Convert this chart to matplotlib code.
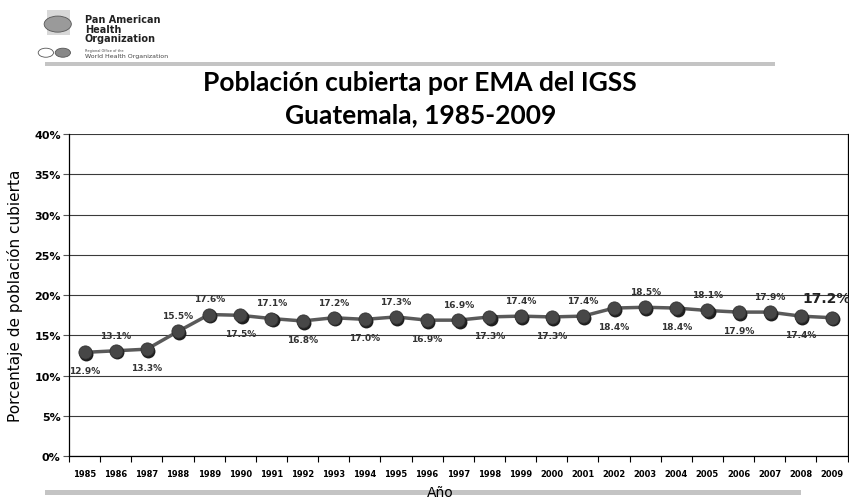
import matplotlib.pyplot as plt
import numpy as np
from matplotlib.patches import Circle, Rectangle

years = [str(y) for y in range(1985, 2010)]
cobertura = [12.9, 13.1, 13.3, 15.5, 17.6, 17.5, 17.1, 16.8, 17.2, 17.0, 17.3, 16.9, 16.9,
             17.3, 17.4, 17.3, 17.4, 18.4, 18.5, 18.4, 18.1, 17.9, 17.9, 17.4, 17.2]
yticks = [0, 5, 10, 15, 20, 25, 30, 35, 40]

# where each data label sits (a = above, b = below)
placement = "babaa" + "babababababababababa"

fig = plt.figure(figsize=(8.49, 5.02), dpi=100)
ax = fig.add_axes([0.0813, 0.089, 0.917, 0.642])

x = np.arange(len(years))
ax.plot(x, cobertura, color='#5a5a5a', lw=2.5, zorder=3)
ax.plot(x + 0.04, np.array(cobertura) - 0.2, 'o', ms=10, color='#1e1e1e', mec='none', zorder=4)
ax.plot(x, cobertura, 'o', ms=9.5, color='#474747', mec='#333333', mew=0.6, zorder=5)

for i, (xi, v) in enumerate(zip(x, cobertura)):
    lab = f"{v:.1f}%"
    if i == len(x) - 1:
        ax.annotate(lab, (xi, v), xytext=(-4, 9), textcoords='offset points',
                    ha='center', va='bottom', fontsize=10, fontweight='bold', color='#222222',
                    annotation_clip=False)
        continue
    dy = 8 if placement[i] == 'a' else -10
    ax.annotate(lab, (xi, v), xytext=(0, dy), textcoords='offset points',
                ha='center', va='bottom' if dy > 0 else 'top',
                fontsize=6.5, fontweight='bold', color='#333333')

ax.set_xlim(-0.5, len(years) - 0.5)
ax.set_ylim(0, 40)
ax.set_yticks(yticks)
ax.set_yticklabels([f"{t}%" for t in yticks], fontsize=8, fontweight='bold')
ax.set_xticks(x)
ax.set_xticklabels(years, fontsize=6, fontweight='bold')
ax.set_xticks(np.arange(-0.5, len(years)), minor=True)
ax.tick_params(axis='x', which='major', length=0, pad=9)
ax.tick_params(axis='x', which='minor', length=4, width=0.8)
ax.tick_params(axis='y', length=4, width=0.8, pad=2, color='#555555')
ax.grid(axis='y', color='#3a3a3a', lw=0.8)
ax.set_axisbelow(True)
ax.spines['top'].set_visible(False)
for s in ['left', 'bottom', 'right']:
    ax.spines[s].set_linewidth(0.9)

ax.set_ylabel('Porcentaje de población cubierta', fontsize=11, labelpad=8)

title_font = dict(fontsize=19, fontweight='bold', family='Lato')
fig.text(0.495, 0.834, 'Población cubierta por EMA del IGSS', ha='center', va='center', **title_font)
fig.text(0.495, 0.771, 'Guatemala, 1985-2009', ha='center', va='center', **title_font)

# header bar and logo
fig.add_artist(Rectangle((0.053, 0.866), 0.86, 0.009, transform=fig.transFigure,
                         color='#c4c4c4', lw=0))
fig.add_artist(Rectangle((0.055, 0.928), 0.028, 0.05, transform=fig.transFigure,
                         color='#d8d8d8', lw=0))
fig.add_artist(Circle((0.068, 0.95), 0.016, transform=fig.transFigure,
                      fc='#9a9a9a', ec='#555555', lw=0.6))
fig.add_artist(Circle((0.054, 0.893), 0.009, transform=fig.transFigure,
                      fc='white', ec='#555555', lw=0.6))
fig.add_artist(Circle((0.074, 0.893), 0.009, transform=fig.transFigure,
                      fc='#888888', ec='#555555', lw=0.6))
fig.text(0.1, 0.97, 'Pan American\nHealth\nOrganization', ha='left', va='top',
         fontsize=7, fontweight='bold', linespacing=0.95, color='#222222')
fig.text(0.1, 0.895, 'Regional Office of the', ha='left', va='bottom', fontsize=2.5, color='#444444')
fig.text(0.1, 0.893, 'World Health Organization', ha='left', va='top', fontsize=4.5, color='#444444')

# bottom bar and axis title
fig.add_artist(Rectangle((0.053, 0.012), 0.89, 0.009, transform=fig.transFigure,
                         color='#c4c4c4', lw=0))
fig.text(0.518, 0.004, 'Año', ha='center', va='bottom', fontsize=10)

plt.savefig('out.png', dpi=100)
